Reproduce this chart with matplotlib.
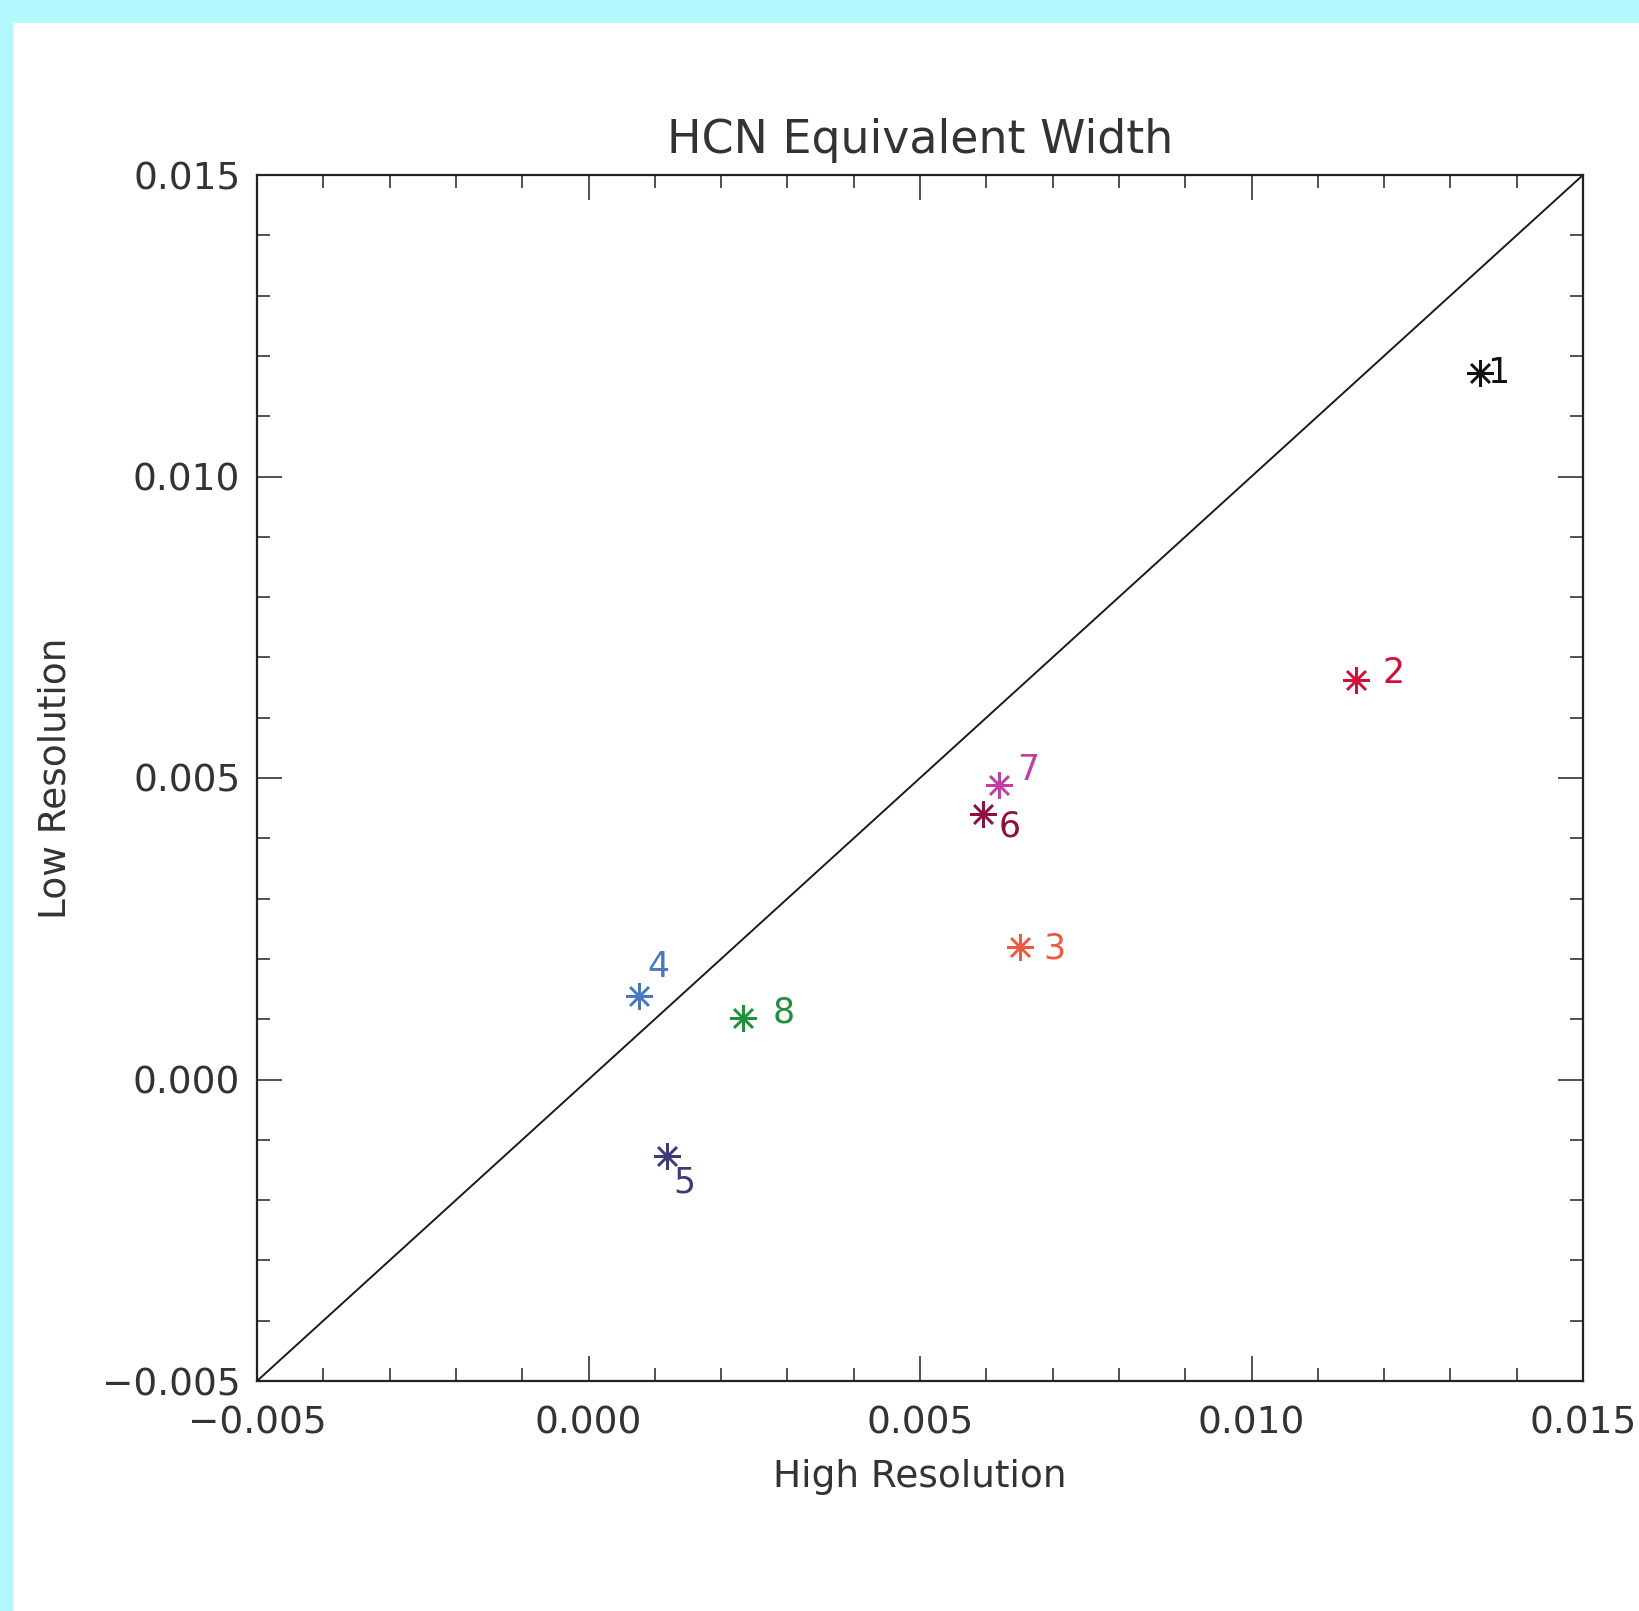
import matplotlib
matplotlib.use("Agg")
import matplotlib.pyplot as plt
from matplotlib.ticker import MultipleLocator, FuncFormatter
from matplotlib.patches import Rectangle

# ---- data ----
labels = ["1", "2", "3", "4", "5", "6", "7", "8"]
high_res = [0.01345, 0.01158, 0.00651, 0.00076, 0.00118, 0.00595, 0.00619, 0.00233]
low_res = [0.01171, 0.00662, 0.00219, 0.00138, -0.00127, 0.00440, 0.00488, 0.00102]
colors = ["#111111", "#d0103a", "#f05a3c", "#4a78c0", "#3c3a78", "#8c1040", "#c040a0", "#20903c"]
label_offsets = [(13, 0), (27, 5), (25, -1), (14, 21), (13, -19), (19, -9), (21, 11), (29, 4)]
x_range = [-0.005, 0.015]
y_range = [-0.005, 0.015]
x_ticks = [-0.005, 0.000, 0.005, 0.010, 0.015]
y_ticks = [-0.005, 0.000, 0.005, 0.010, 0.015]

plt.rcParams['font.family'] = ['DejaVu Sans']
text_color = "#333333"

W, H = 1639, 1611
fig = plt.figure(figsize=(W / 100, H / 100), dpi=100, facecolor="#b2f9fd")
fig.patches.append(Rectangle((12.5 / W, 0), 1 - 12.5 / W, 1 - 23 / H,
                             transform=fig.transFigure, facecolor="white",
                             edgecolor="none", zorder=-10))

ax = fig.add_axes([257 / W, 1 - 1381 / H, (1583 - 257) / W, (1381 - 175) / H])
ax.set_zorder(5)
ax.set_facecolor("white")

ax.plot(x_range, y_range, color="#1a1a1a", lw=1.4, zorder=2)

for x, y, c, lab, off in zip(high_res, low_res, colors, labels, label_offsets):
    ax.plot([x], [y], linestyle="none", marker=(8, 2, 0), markersize=19,
            markeredgewidth=1.8, color=c, zorder=3)
    ax.annotate(lab, (x, y), xytext=off, textcoords="offset points",
                ha="center", va="center", fontsize=25, color=c, zorder=4)

fmt = FuncFormatter(lambda v, p: ("%.3f" % v).replace("-", "\u2212"))
ax.set_xlim(x_range)
ax.set_ylim(y_range)
ax.set_xticks(x_ticks)
ax.set_yticks(y_ticks)
ax.xaxis.set_major_formatter(fmt)
ax.yaxis.set_major_formatter(fmt)
ax.xaxis.set_minor_locator(MultipleLocator(0.001))
ax.yaxis.set_minor_locator(MultipleLocator(0.001))

ax.tick_params(which="both", direction="in", top=True, right=True,
               color="#222222", width=1.1, labelcolor=text_color, labelsize=27)
ax.tick_params(which="major", length=18)
ax.tick_params(which="minor", length=9.5)
ax.tick_params(axis="x", which="major", pad=18)
ax.tick_params(axis="y", which="major", pad=12)

for sp in ax.spines.values():
    sp.set_linewidth(1.6)
    sp.set_color("#222222")

ax.set_title("HCN Equivalent Width", fontsize=33, color=text_color, pad=16)
ax.set_xlabel("High Resolution", fontsize=27, color=text_color, labelpad=12)
ax.set_ylabel("Low Resolution", fontsize=27, color=text_color, labelpad=20)

fig.savefig("out.png", dpi=100, facecolor=fig.get_facecolor())
